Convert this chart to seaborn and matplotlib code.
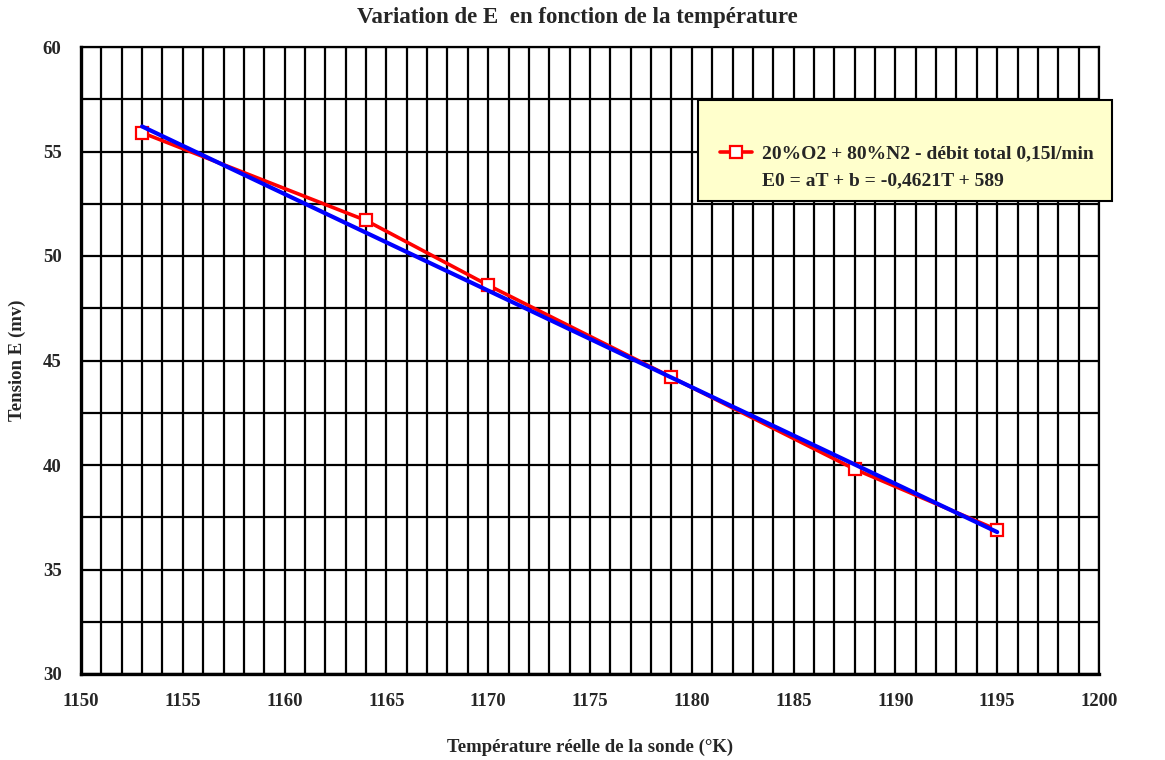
import matplotlib
matplotlib.use("Agg")
import matplotlib.pyplot as plt
from matplotlib.ticker import MultipleLocator
from matplotlib.patches import Rectangle
from matplotlib.lines import Line2D
import numpy as np
import pandas as pd
import seaborn as sns

# Measured probe temperature (K) and cell voltage (mV)
temperature = [1153, 1164, 1170, 1179, 1188, 1195]
tension = [55.9, 51.7, 48.6, 44.2, 39.8, 36.9]

# Linear fit E0 = aT + b
coef_a = -0.4621
coef_b = 589

series_label = "20%O2 + 80%N2 - débit total 0,15l/min"
fit_label = "E0 = aT + b = -0,4621T + 589"
title = "Variation de E  en fonction de la température"
xlabel = "Température réelle de la sonde (°K)"
ylabel = "Tension E (mv)"

sns.set_style("white")
plt.rcParams["font.family"] = ["Liberation Serif", "DejaVu Serif"]
plt.rcParams["font.weight"] = "bold"

df = pd.DataFrame({"T": temperature, "E": tension})
t_fit = np.array([temperature[0], temperature[-1]], dtype=float)
fit_df = pd.DataFrame({"T": t_fit, "E": coef_a * t_fit + coef_b})

fig = plt.figure(figsize=(11.65, 7.6), dpi=100)
ax = fig.add_axes([81 / 1165, 1 - 674 / 760, (1099 - 81) / 1165, (674 - 47) / 760])

sns.lineplot(data=df, x="T", y="E", ax=ax, color="red", lw=2.6,
             marker="s", markersize=9, markerfacecolor="white",
             markeredgecolor="red", markeredgewidth=1.6, zorder=3)
sns.lineplot(data=fit_df, x="T", y="E", ax=ax, color="#0000FF", lw=3.0, zorder=4)

ax.set_xlim(1150, 1200)
ax.set_ylim(30, 60)
ax.xaxis.set_major_locator(MultipleLocator(5))
ax.xaxis.set_minor_locator(MultipleLocator(1))
ax.yaxis.set_major_locator(MultipleLocator(5))
ax.yaxis.set_minor_locator(MultipleLocator(2.5))
ax.grid(which="both", color="black", lw=1.6)
ax.set_axisbelow(True)
ax.tick_params(which="major", direction="out", length=6, width=1.6,
               color="black", labelsize=13.5, pad=8)
ax.tick_params(which="minor", length=0)
for lbl in ax.get_xticklabels() + ax.get_yticklabels():
    lbl.set_fontweight("bold")
for side in ["left", "bottom"]:
    ax.spines[side].set_linewidth(2.4)
for side in ["top", "right"]:
    ax.spines[side].set_linewidth(1.6)
for sp in ax.spines.values():
    sp.set_color("black")

ax.set_xlabel(xlabel, fontsize=13.5, fontweight="bold", labelpad=20)
ax.set_ylabel(ylabel, fontsize=13.5, fontweight="bold", labelpad=12)
fig.text(0.496, 1 - 17 / 760, title, ha="center", va="center",
         fontsize=16.5, fontweight="bold")

# Legend panel
box = Rectangle((698 / 1165, 1 - 201 / 760), (1112 - 698) / 1165, 101 / 760,
                transform=fig.transFigure, facecolor="#FFFFCC",
                edgecolor="black", lw=1.5, zorder=5)
fig.patches.append(box)
handles = [
    Line2D([], [], color="red", lw=2.6, marker="s", markersize=8,
           markerfacecolor="white", markeredgecolor="red", markeredgewidth=1.6),
    Line2D([], [], color="none"),
]
leg = fig.legend(handles, [series_label, fit_label], loc="center left",
                 bbox_to_anchor=(712 / 1165, 1 - 167 / 760), frameon=False,
                 fontsize=14, handlelength=1.65, handletextpad=0.5,
                 labelspacing=0.45, borderaxespad=0)
leg.set_zorder(6)
for txt in leg.get_texts():
    txt.set_fontweight("bold")

fig.savefig("out.png", dpi=100, facecolor="white")
